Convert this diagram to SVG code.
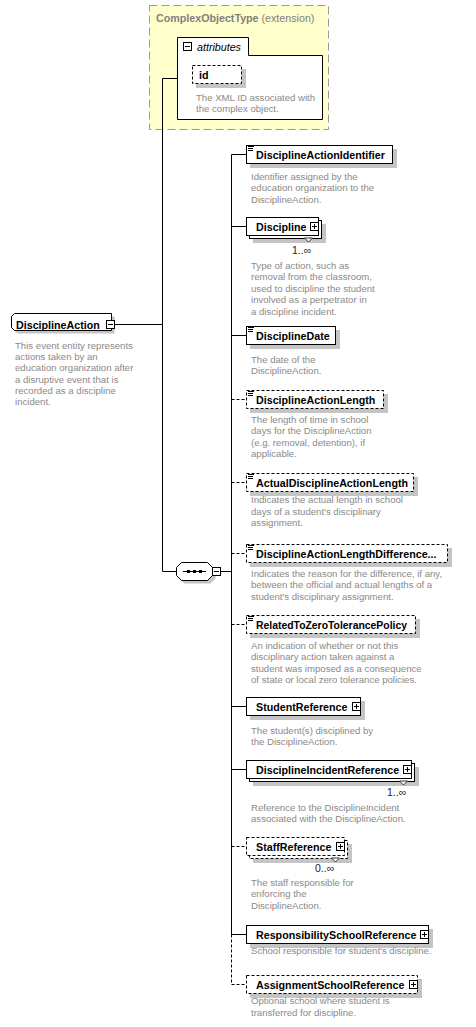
<svg xmlns="http://www.w3.org/2000/svg" width="476" height="1027" viewBox="0 0 476 1027">
  <style>
    .lbl { font-family: "Liberation Sans", Arial, sans-serif; font-weight: bold; font-size: 10.7px; fill: #000; }
    .dsc { font-family: "Liberation Sans", Arial, sans-serif; font-size: 9.6px; fill: #8a8a8a; }
    .occ { font-family: "Liberation Sans", Arial, sans-serif; font-size: 10.5px; fill: #1a1a3a; }
    .box { fill: #fff; stroke: #000; stroke-width: 1; }
    .opt { stroke-dasharray: 3 2; }
    .shd { fill: #c4c4c4; }
    .wire { fill: none; stroke: #000; stroke-width: 1; }
    .wire.opt { stroke-dasharray: 3 2; }
  </style>
  <defs>
    <g id="plus">
      <rect x="0.5" y="0.5" width="8" height="8" fill="#fff" stroke="#000"/>
      <path d="M2,4.5 H7 M4.5,2 V7" stroke="#000"/>
    </g>
    <g id="minus">
      <rect x="0.5" y="0.5" width="8" height="8" fill="#fff" stroke="#000"/>
      <path d="M2,4.5 H7" stroke="#000"/>
    </g>
    <path id="leaf" d="M0,0.5 H6 M0,2.5 H5 M0,4.5 H5" stroke="#000" fill="none"/>
    <polygon id="notch" points="-4,0 4,0 0,4" fill="#fff" stroke="#333"/>
  </defs>

  <!-- base type with its attributes -->
  <g id="complexObjectType">
    <rect x="149.5" y="5.5" width="179" height="124" fill="#ffffcc" stroke="#9a9a9a" stroke-dasharray="8 4"/>
    <text x="156" y="21.5" class="lbl" style="fill:#808080">ComplexObjectType<tspan style="font-weight:normal"> (extension)</tspan></text>
    <path d="M177.5,37.5 H248.5 V55.5 H322.5 V119.5 H177.5 Z" class="box"/>
    <use href="#minus" x="183" y="42"/>
    <text x="197" y="50.5" style="font-family:'Liberation Sans',Arial,sans-serif;font-style:italic;font-size:10.7px">attributes</text>
  </g>
  <g id="attr-id">
    <rect x="196" y="69" width="50" height="19" class="shd"/>
    <rect x="192.5" y="65.5" width="49" height="18" class="box opt"/>
    <text x="199" y="79" class="lbl">id</text>
    <text class="dsc"><tspan x="196" y="100.5">The XML ID associated with</tspan><tspan x="196" y="112">the complex object.</tspan></text>
  </g>

  <!-- root element -->
  <g id="DisciplineAction">
    <path d="M17.5,316.5 H114.5 V333.5 H17.5 L14.5,330.5 V319.5 Z" class="shd"/>
    <path d="M14.5,313.5 H111.5 V330.5 H14.5 L11.5,327.5 V316.5 Z" class="box"/>
    <text x="16" y="328.5" class="lbl">DisciplineAction</text>
    <use href="#minus" x="106" y="320"/>
    <text class="dsc"><tspan x="15" y="349">This event entity represents</tspan><tspan x="15" y="360.2">actions taken by an</tspan><tspan x="15" y="371.4">education organization after</tspan><tspan x="15" y="382.6">a disruptive event that is</tspan><tspan x="15" y="393.8">recorded as a discipline</tspan><tspan x="15" y="405">incident.</tspan></text>
  </g>

  <!-- sequence compositor -->
  <g id="sequence">
    <polygon points="184.5,565.5 210.5,565.5 215.5,570.5 215.5,578.5 210.5,583.5 184.5,583.5 179.5,578.5 179.5,570.5" class="shd"/>
    <polygon points="181.5,562.5 207.5,562.5 212.5,567.5 212.5,575.5 207.5,580.5 181.5,580.5 176.5,575.5 176.5,567.5" class="box"/>
    <path d="M183,571.5 H206" stroke="#000"/>
    <rect x="187" y="570" width="3" height="3"/>
    <rect x="193" y="570" width="3" height="3"/>
    <rect x="199" y="570" width="3" height="3"/>
    <use href="#minus" x="212" y="567"/>
  </g>

  <!-- connectors -->
  <g id="connectors">
    <path class="wire" d="M162.5,78.5 V571.5 M162.5,78.5 H177.5 M115,324.5 H162.5 M162.5,571.5 H176.5 M220.5,571.5 H231.5"/>
    <path class="wire" d="M231.5,154.5 V934.5"/>
    <path class="wire opt" d="M231.5,934.5 V984.5"/>
    <path class="wire" d="M231.5,154.5 H246.5 M231.5,226.5 H246.5 M231.5,335.5 H246.5 M231.5,706.5 H246.5 M231.5,769.5 H246.5 M231.5,934.5 H246.5"/>
    <path class="wire opt" d="M231.5,399.5 H246.5 M231.5,482.5 H246.5 M231.5,553.5 H246.5 M231.5,624.5 H246.5 M231.5,846.5 H246.5 M231.5,984.5 H246.5"/>
  </g>

  <!-- child elements -->
  <g id="DisciplineActionIdentifier">
    <rect x="250" y="149" width="147" height="19" class="shd"/>
    <rect x="246.5" y="145.5" width="146" height="18" class="box"/>
    <use href="#leaf" x="248" y="146"/>
    <text x="256" y="158.5" class="lbl">DisciplineActionIdentifier</text>
    <text class="dsc"><tspan x="251" y="179.5">Identifier assigned by the</tspan><tspan x="251" y="191.1">education organization to the</tspan><tspan x="251" y="202.7">DisciplineAction.</tspan></text>
  </g>

  <g id="Discipline">
    <rect x="253" y="224" width="73" height="19" class="shd"/>
    <rect x="249.5" y="220.5" width="72" height="18" class="box"/>
    <rect x="246.5" y="217.5" width="72" height="18" class="box"/>
    <text x="256" y="230.5" class="lbl">Discipline</text>
    <use href="#plus" x="310" y="222"/>
    <use href="#notch" x="308.5" y="238"/>
    <text x="292" y="254" class="occ">1..∞</text>
    <text class="dsc"><tspan x="251" y="268.5">Type of action, such as</tspan><tspan x="251" y="280.1">removal from the classroom,</tspan><tspan x="251" y="291.7">used to discipline the student</tspan><tspan x="251" y="303.3">involved as a perpetrator in</tspan><tspan x="251" y="314.9">a discipline incident.</tspan></text>
  </g>

  <g id="DisciplineDate">
    <rect x="250" y="330" width="90" height="19" class="shd"/>
    <rect x="246.5" y="326.5" width="89" height="18" class="box"/>
    <use href="#leaf" x="248" y="327"/>
    <text x="256" y="339.5" class="lbl">DisciplineDate</text>
    <text class="dsc"><tspan x="251" y="362.5">The date of the</tspan><tspan x="251" y="374.1">DisciplineAction.</tspan></text>
  </g>

  <g id="DisciplineActionLength">
    <rect x="250" y="394" width="138" height="19" class="shd"/>
    <rect x="246.5" y="390.5" width="137" height="18" class="box opt"/>
    <use href="#leaf" x="248" y="391"/>
    <text x="256" y="403.5" class="lbl">DisciplineActionLength</text>
    <text class="dsc"><tspan x="251" y="422.5">The length of time in school</tspan><tspan x="251" y="434.1">days for the DisciplineAction</tspan><tspan x="251" y="445.7">(e.g. removal, detention), if</tspan><tspan x="251" y="457.3">applicable.</tspan></text>
  </g>

  <g id="ActualDisciplineActionLength">
    <rect x="250" y="477" width="168" height="19" class="shd"/>
    <rect x="246.5" y="473.5" width="167" height="18" class="box opt"/>
    <use href="#leaf" x="248" y="474"/>
    <text x="256" y="486.5" class="lbl">ActualDisciplineActionLength</text>
    <text class="dsc"><tspan x="251" y="503">Indicates the actual length in school</tspan><tspan x="251" y="514.6">days of a student's disciplinary</tspan><tspan x="251" y="526.2">assignment.</tspan></text>
  </g>

  <g id="DisciplineActionLengthDifferenceReason">
    <rect x="250" y="548" width="202" height="19" class="shd"/>
    <rect x="246.5" y="544.5" width="201" height="18" class="box opt"/>
    <use href="#leaf" x="248" y="545"/>
    <text x="256" y="557.5" class="lbl">DisciplineActionLengthDifference...</text>
    <text class="dsc"><tspan x="251" y="576.5">Indicates the reason for the difference, if any,</tspan><tspan x="251" y="588.1">between the official and actual lengths of a</tspan><tspan x="251" y="599.7">student's disciplinary assignment.</tspan></text>
  </g>

  <g id="RelatedToZeroTolerancePolicy">
    <rect x="250" y="619" width="170" height="19" class="shd"/>
    <rect x="246.5" y="615.5" width="169" height="18" class="box opt"/>
    <use href="#leaf" x="248" y="616"/>
    <text x="256" y="628.5" class="lbl" textLength="151" lengthAdjust="spacingAndGlyphs">RelatedToZeroTolerancePolicy</text>
    <text class="dsc"><tspan x="251" y="648.5">An indication of whether or not this</tspan><tspan x="251" y="660.1">disciplinary action taken against a</tspan><tspan x="251" y="671.7">student was imposed as a consequence</tspan><tspan x="251" y="683.3">of state or local zero tolerance policies.</tspan></text>
  </g>

  <g id="StudentReference">
    <rect x="250" y="701" width="115" height="19" class="shd"/>
    <rect x="246.5" y="697.5" width="114" height="18" class="box"/>
    <text x="256" y="710.5" class="lbl">StudentReference</text>
    <use href="#plus" x="352" y="702"/>
    <text class="dsc"><tspan x="251" y="733.5">The student(s) disciplined by</tspan><tspan x="251" y="745.1">the DisciplineAction.</tspan></text>
  </g>

  <g id="DisciplineIncidentReference">
    <rect x="253" y="767" width="166" height="19" class="shd"/>
    <rect x="249.5" y="763.5" width="165" height="18" class="box"/>
    <rect x="246.5" y="760.5" width="165" height="18" class="box"/>
    <text x="256" y="773.5" class="lbl">DisciplineIncidentReference</text>
    <use href="#plus" x="403" y="765"/>
    <use href="#notch" x="403.5" y="781"/>
    <text x="387" y="796" class="occ">1..∞</text>
    <text class="dsc"><tspan x="251" y="810.5">Reference to the DisciplineIncident</tspan><tspan x="251" y="822.1">associated with the DisciplineAction.</tspan></text>
  </g>

  <g id="StaffReference">
    <rect x="253" y="844" width="99" height="19" class="shd"/>
    <rect x="249.5" y="840.5" width="98" height="18" class="box opt"/>
    <rect x="246.5" y="837.5" width="98" height="18" class="box opt"/>
    <text x="256" y="850.5" class="lbl">StaffReference</text>
    <use href="#plus" x="336" y="842"/>
    <use href="#notch" x="335.5" y="858"/>
    <text x="315" y="872" class="occ">0..∞</text>
    <text class="dsc"><tspan x="251" y="885.5">The staff responsible for</tspan><tspan x="251" y="897.1">enforcing the</tspan><tspan x="251" y="908.7">DisciplineAction.</tspan></text>
  </g>

  <g id="ResponsibilitySchoolReference">
    <rect x="250" y="929" width="183" height="19" class="shd"/>
    <rect x="246.5" y="925.5" width="182" height="18" class="box"/>
    <text x="256" y="938.5" class="lbl">ResponsibilitySchoolReference</text>
    <use href="#plus" x="420" y="930"/>
    <text class="dsc"><tspan x="251" y="954">School responsible for student's discipline.</tspan></text>
  </g>

  <g id="AssignmentSchoolReference">
    <rect x="250" y="979" width="172" height="19" class="shd"/>
    <rect x="246.5" y="975.5" width="171" height="18" class="box opt"/>
    <text x="256" y="988.5" class="lbl">AssignmentSchoolReference</text>
    <use href="#plus" x="409" y="980"/>
    <text class="dsc"><tspan x="251" y="1004">Optional school where student is</tspan><tspan x="251" y="1015.6">transferred for discipline.</tspan></text>
  </g>
</svg>
